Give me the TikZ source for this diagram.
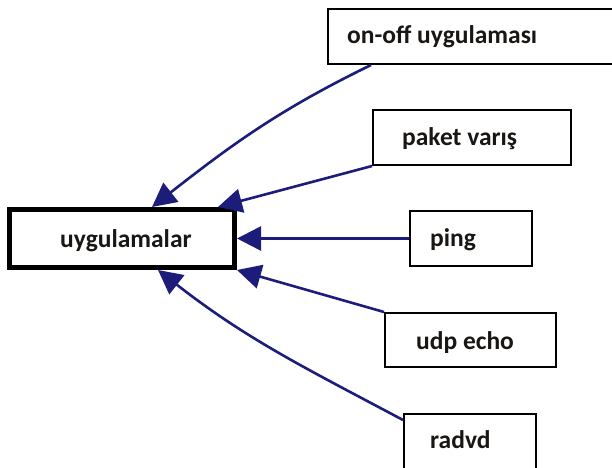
\documentclass[tikz,border=0pt]{standalone}
\usepackage{fontspec}
\setmainfont{Carlito}
\usetikzlibrary{arrows.meta}
\definecolor{arrowblue}{RGB}{28,28,122}
\definecolor{labelink}{RGB}{25,22,20}
\tikzset{
  box/.style={draw=black, line width=2bp, rectangle, inner sep=0pt, fill=white},
  mainbox/.style={draw=black, line width=5bp, rectangle, inner sep=0pt, fill=white},
  lbl/.style={inner sep=0pt, anchor=base west, text=labelink,
    font=\fontsize{25.5bp}{30bp}\selectfont\bfseries},
  link/.style={draw=arrowblue, line width=2.6bp,
    -{Triangle[length=24bp,width=24bp]}}
}
\begin{document}
\begin{tikzpicture}[x=1bp,y=-1bp]
  \useasboundingbox (0,0) rectangle (612,468);
  \clip (0,0) rectangle (612,468);

  % boxes
  \node[mainbox, minimum width=225bp, minimum height=58bp] (uyg)   at (122,238.5) {};
  \node[box, minimum width=332bp, minimum height=55bp]     (onoff) at (494,36.5) {};
  \node[box, minimum width=198bp, minimum height=55bp]     (paket) at (472,137.5) {};
  \node[box, minimum width=122bp, minimum height=55bp]     (ping)  at (471,238.5) {};
  \node[box, minimum width=171bp, minimum height=54bp]     (udp)   at (470.5,340) {};
  \node[box, minimum width=132bp, minimum height=62bp]     (radvd) at (470,445) {};

  % labels
  \node[lbl] (tuyg)   at (60,248)  {uygulamalar};
  \node[lbl] (tonoff) at (347,44)  {on-off uygulaması};
  \node[lbl] (tpaket) at (402,146) {paket varış};
  \node[lbl] (tping)  at (430,247) {ping};
  \node[lbl] (tudp)   at (416,349) {udp echo};
  \node[lbl] (tradvd) at (430,448) {radvd};

  % connectors
  \draw[link] ([shift={(44,0)}]onoff.south west)
      to[out=206, in=38] ([shift={(30,0)}]uyg.north);
  \draw[link] (paket.south west) -- ([shift={(96,0)}]uyg.north);
  \draw[link] (ping.west) -- (uyg.east);
  \draw[link] (udp.north west) -- (uyg.south east);
  \draw[link] ([shift={(0,7)}]radvd.north west)
      to[out=152, in=-38] ([shift={(36,0)}]uyg.south);
\end{tikzpicture}
\end{document}
